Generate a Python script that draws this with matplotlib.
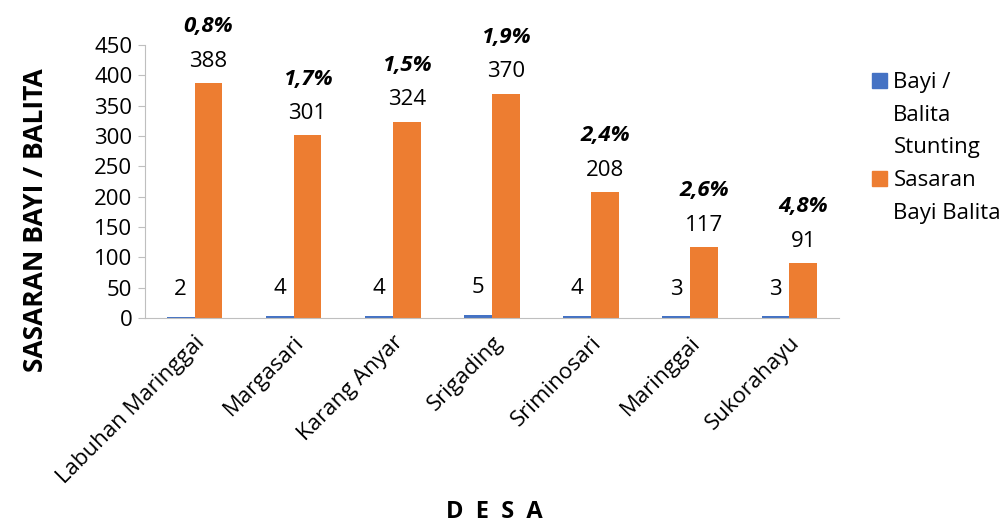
import numpy as np
import matplotlib.pyplot as plt
from matplotlib.patches import Patch

plt.rcParams['font.family'] = ['Open Sans', 'DejaVu Sans']

desa = ['Labuhan Maringgai', 'Margasari', 'Karang Anyar', 'Srigading',
        'Sriminosari', 'Maringgai', 'Sukorahayu']
stunting = [2, 4, 4, 5, 4, 3, 3]
sasaran = [388, 301, 324, 370, 208, 117, 91]
persen = ['0,8%', '1,7%', '1,5%', '1,9%', '2,4%', '2,6%', '4,8%']

blue = '#4472C4'
orange = '#ED7D31'
fs = 16

fig = plt.figure(figsize=(10.08, 5.24), dpi=100)
ax = fig.add_axes([0.1438, 0.393, 0.6885, 0.521])

x = np.arange(len(desa))
w = 0.28
ax.bar(x - w/2, stunting, w, color=blue)
ax.bar(x + w/2, sasaran, w, color=orange)

for i in range(len(desa)):
    ax.annotate(str(stunting[i]), (x[i] - w/2, stunting[i]), xytext=(0, 12),
                textcoords='offset points', ha='center', va='bottom', fontsize=fs)
    ax.annotate(str(sasaran[i]), (x[i] + w/2, sasaran[i]), xytext=(0, 8),
                textcoords='offset points', ha='center', va='bottom', fontsize=fs)
    ax.annotate(persen[i], (x[i] + w/2, sasaran[i]), xytext=(0, 33),
                textcoords='offset points', ha='center', va='bottom', fontsize=fs,
                fontweight='bold', style='italic')

ax.set_xlim(-0.5, len(desa) - 0.5)
ax.set_ylim(0, 450)
ax.set_yticks(range(0, 451, 50))
ax.set_xticks(x)
ax.set_xticklabels(desa, rotation=45, ha='right', rotation_mode='anchor', fontsize=fs)
ax.tick_params(axis='y', labelsize=fs, length=5, color='#bfbfbf', pad=4)
ax.tick_params(axis='x', length=0, pad=10)
for s in ['top', 'right']:
    ax.spines[s].set_visible(False)
ax.spines['left'].set_color('#bfbfbf')
ax.spines['bottom'].set_color('#bfbfbf')

fig.text(0.035, 0.58, 'SASARAN BAYI / BALITA', rotation=90, ha='center', va='center',
         fontsize=19, fontweight='bold')
fig.text(0.49, 0.023, 'D  E  S  A', ha='center', va='center', fontsize=17, fontweight='bold')

# legend: one entry per line so the square sits on the first line, like Excel
hidden = Patch(visible=False)
handles = [Patch(color=blue), hidden, hidden, Patch(color=orange), hidden]
labels = ['Bayi /', 'Balita', 'Stunting', 'Sasaran', 'Bayi Balita']
ax.legend(handles, labels, loc='upper left', bbox_to_anchor=(1.047, 0.9), frameon=False,
          fontsize=fs, handlelength=0.68, handleheight=0.68, handletextpad=0.3,
          labelspacing=0.52, borderpad=0, borderaxespad=0)

fig.savefig('out.png', dpi=100)
